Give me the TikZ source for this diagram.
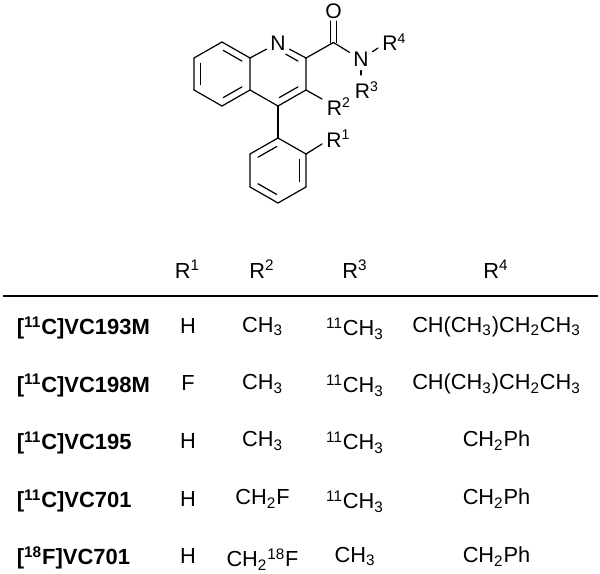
\documentclass[tikz,border=0pt]{standalone}
\usepackage{fontspec}
\setmainfont{Liberation Sans}
\usetikzlibrary{calc}
\newcommand{\sub}[1]{\textsubscript{#1}}
\newcommand{\sups}[1]{\textsuperscript{#1}}
\tikzset{
	atom/.style = {inner sep = 2pt, font = \fontsize{12}{14}\selectfont},
	group/.style = {inner sep = 0pt, anchor = base west, font = \fontsize{12}{14}\selectfont},
	cell/.style = {inner sep = 0pt, anchor = base, font = \fontsize{12.4}{14}\selectfont},
	compound/.style = {inner sep = 0pt, anchor = base west, font = \fontsize{12.5}{14}\selectfont\bfseries},
	bond/.style = {line width = 0.7pt, line cap = round},
	inner/.style = {bond, shorten < = 0.03cm, shorten > = 0.03cm}
}

\begin{document}
\begin{tikzpicture}[x = 0.02cm, y = -0.02cm]
	\useasboundingbox (0,0) rectangle (600,574);

	% ring atoms
	\coordinate (C8a) at (250,58);
	\coordinate (C8) at (222,42);
	\coordinate (C7) at (194,58);
	\coordinate (C6) at (194,90);
	\coordinate (C5) at (222,106);
	\coordinate (C4a) at (250,90);
	\coordinate (C4) at (278,106);
	\coordinate (C3) at (306,90);
	\coordinate (C2) at (306,58);
	\coordinate (CO) at (333.5,42.5);
	\coordinate (P1) at (278,138);
	\coordinate (P2) at (306,154);
	\coordinate (P3) at (306,187);
	\coordinate (P4) at (278,203);
	\coordinate (P5) at (250,187);
	\coordinate (P6) at (250,154);
	\coordinate (N1v) at (278,42);
	\coordinate (ringA) at (222,74);
	\coordinate (ringB) at (278,74);
	\coordinate (ringC) at (278,170.5);

	% heteroatoms and groups
	\node [atom] (N1) at (278,43) {N};
	\node [atom, inner sep = 1pt] (O1) at (333.5,11.5) {O};
	\node [atom] (N2) at (361,59.5) {N};
	\node [group] (R4) at (382,51) {R\sups{4}};
	\node [group] (R3) at (354.5,99) {R\sups{3}};
	\node [group] (R2) at (326.5,115.5) {R\sups{2}};
	\node [group] (R1) at (326,147.5) {R\sups{1}};
	\coordinate (endR4) at (378,48);
	\coordinate (endR3) at (361,75);
	\coordinate (endR2) at (322,99);
	\coordinate (endR1) at (322,144);

	% skeleton
	\begin{scope}[bond]
		\draw (C8a) -- (C8) -- (C7) -- (C6) -- (C5) -- (C4a) -- (C8a);
		\draw (C4a) -- (C4) -- (C3) -- (C2);
		\draw (C8a) -- (N1);
		\draw (N1) -- (C2);
		\draw (C2) -- (CO);
		\draw (P1) -- (P2) -- (P3) -- (P4) -- (P5) -- (P6) -- (P1);
		\draw (C4) -- (P1);
		\draw (CO) -- (N2);
		\draw (N2) -- (endR4);
		\draw (N2) -- (endR3);
		\draw (C3) -- (endR2);
		\draw (P2) -- (endR1);

		\foreach \a/\b/\c in {C8/C8a/ringA, C7/C6/ringA, C5/C4a/ringA, C4/C3/ringB, P1/P6/ringC, P2/P3/ringC, P4/P5/ringC}
			\draw [inner] ($(\a)!0.24!(\c)$) -- ($(\b)!0.24!(\c)$);
		\draw [inner, shorten > = 0.18cm] ($(C2)!0.24!(ringB)$) -- ($(N1v)!0.24!(ringB)$);

		\draw ($(CO)+(-2.7,0)$) -- ($(O1.south)+(-2.7,0)$);
		\draw ($(CO)+(2.7,0)$) -- ($(O1.south)+(2.7,0)$);
	\end{scope}

	% table
	\node [cell] (headA) at (187.5,278.5) {R\sups{1}};
	\node [cell] (headB) at (262,278.5) {R\sups{2}};
	\node [cell] (headC) at (355,278.5) {R\sups{3}};
	\node [cell] (headD) at (496,278.5) {R\sups{4}};
	\coordinate (ruleL) at (3,296);
	\coordinate (ruleR) at (598,296);
	\draw [line width = 0.7pt] (ruleL) -- (ruleR);

	\foreach \n/\yy/\ya/\yb/\yc/\yd/\name/\ra/\rb/\rc/\rd in {
		1/335/333.3/332.3/336/332.3/{[\sups{11}C]VC193M}/H/{CH\sub{3}}/{\sups{11}CH\sub{3}}/{CH(CH\sub{3})CH\sub{2}CH\sub{3}},
		2/392.5/391/390/393/390/{[\sups{11}C]VC198M}/F/{CH\sub{3}}/{\sups{11}CH\sub{3}}/{CH(CH\sub{3})CH\sub{2}CH\sub{3}},
		3/450/449/446.7/450/446.7/{[\sups{11}C]VC195}/H/{CH\sub{3}}/{\sups{11}CH\sub{3}}/{CH\sub{2}Ph},
		4/508/506.5/505/509/505/{[\sups{11}C]VC701}/H/{CH\sub{2}F}/{\sups{11}CH\sub{3}}/{CH\sub{2}Ph},
		5/565/564/567/562.5/563/{[\sups{18}F]VC701}/H/{CH\sub{2}\sups{18}F}/{CH\sub{3}}/{CH\sub{2}Ph}}
	{
		\node [compound] (name\n) at (16.5,\yy) {\name};
		\node [cell] (ra\n) at (188,\ya) {\ra};
		\node [cell] (rb\n) at (262.5,\yb) {\rb};
		\node [cell] (rc\n) at (355,\yc) {\rc};
		\node [cell] (rd\n) at (496.5,\yd) {\rd};
	}
\end{tikzpicture}
\end{document}
